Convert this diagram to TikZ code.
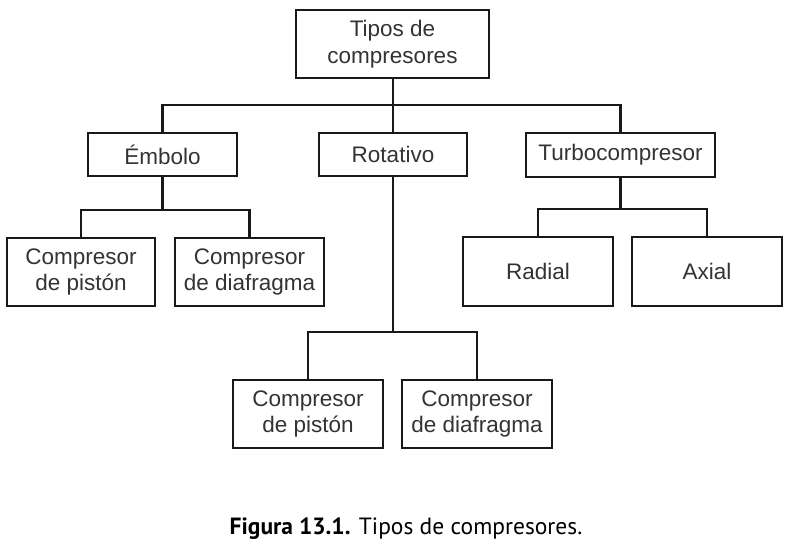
\documentclass[tikz,border=0pt]{standalone}
\usepackage{fontspec}
\setmainfont{Liberation Sans}
\newfontfamily\capfont{PT Sans}
\begin{document}
\begin{tikzpicture}[x=1pt,y=-1pt,
  box/.style={draw=black!90, line width=2.9pt, inner sep=0pt, align=center,
    text=black!80, font=\fontsize{22.5}{26.5}\selectfont},
  conn/.style={draw=black!90, line width=2.9pt}]
\useasboundingbox (0,0) rectangle (795,552);
\node[box, minimum width=193pt, minimum height=68pt] (top) at (392.5,44) {Tipos de\\compresores};
\node[box, minimum width=149pt, minimum height=43pt] (emb) at (162.5,154.5) {Émbolo};
\node[box, minimum width=148pt, minimum height=43pt] (rot) at (393,154.5) {Rotativo};
\node[box, minimum width=189pt, minimum height=44pt] (tur) at (620.5,155) {Turbocompresor};
\node[box, minimum width=148pt, minimum height=68pt] (p1) at (81,272) {Compresor\\de pistón};
\node[box, minimum width=149pt, minimum height=68pt] (d1) at (249.5,272) {Compresor\\de diafragma};
\node[box, minimum width=150pt, minimum height=69pt] (rad) at (538,271.5) {Radial};
\node[box, minimum width=150pt, minimum height=69pt] (ax) at (707,271.5) {Axial};
\node[box, minimum width=150pt, minimum height=68pt] (p2) at (308,414) {Compresor\\de pistón};
\node[box, minimum width=150pt, minimum height=68pt] (d2) at (477,414) {Compresor\\de diafragma};
\coordinate (h0) at (393,105);
\coordinate (h1) at (162.5,210);
\coordinate (h2) at (393,332);
\coordinate (h3) at (620.5,209);
\draw[conn] (top.south -| h0) -- (h0);
\draw[conn] (emb.north) |- (h0) -| (tur.north);
\draw[conn] (h0) -- (rot.north);
\draw[conn] (emb.south) -- (h1);
\draw[conn] (p1.north) |- (h1) -| (d1.north);
\draw[conn] (rot.south) -- (h2);
\draw[conn] (p2.north) |- (h2) -| (d2.north);
\draw[conn] (tur.south) -- (h3);
\draw[conn] (rad.north) |- (h3) -| (ax.north);
\node[font=\capfont\fontsize{23.5}{26}\selectfont, text=black] (cap) at (406,529) {\textbf{Figura 13.1.} Tipos de compresores.};
\end{tikzpicture}
\end{document}
